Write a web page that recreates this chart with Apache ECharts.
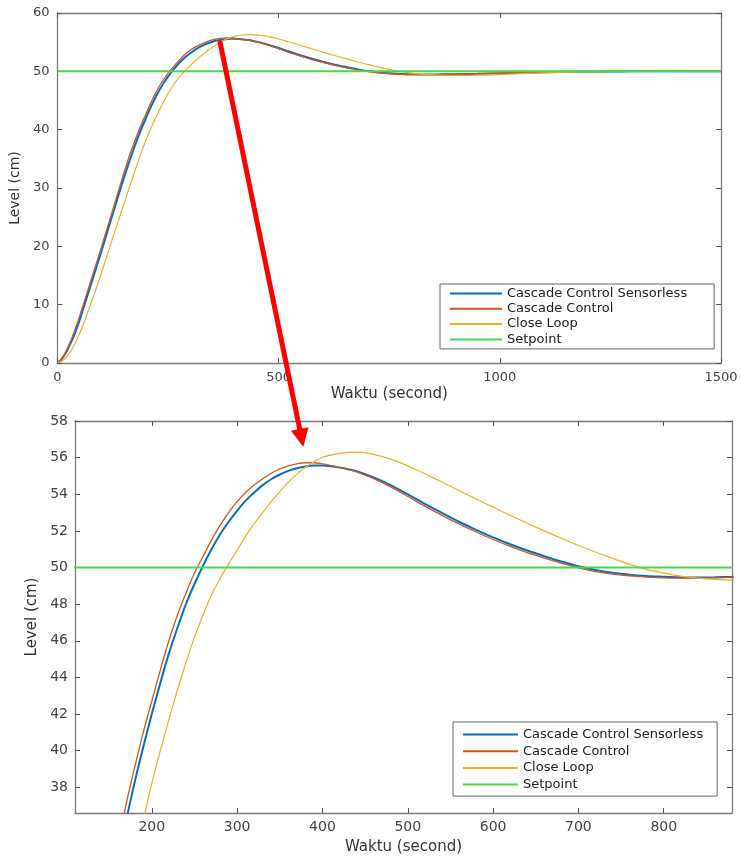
<!DOCTYPE html>
<html>
<head>
<meta charset="utf-8">
<script src="https://cdn.jsdelivr.net/npm/echarts@6.0.0/dist/echarts.min.js"></script>
<style>
html,body{margin:0;padding:0;background:#fff;}
#chart{width:742px;height:857px;}
</style>
</head>
<body>
<div id="chart"></div>
<script>
// ---- data (time in seconds, level in cm) ----
const times = [0,10,20,30,40,50,60,70,80,90,100,110,120,130,140,150,160,170,180,190,200,210,220,230,240,250,260,270,280,290,300,310,320,330,340,350,360,370,380,390,400,410,420,430,440,460,480,500,520,540,560,580,600,620,640,660,680,700,720,740,760,780,800,820,840,860,880,900,950,1000,1050,1100,1150,1200,1250,1300,1400,1500];

const sensorless = [0,0.7,1.9,3.4,5.2,7.3,9.7,12.1,14.5,16.9,19.3,21.8,24.3,26.8,29.3,31.7,34.0,36.2,38.3,40.2,42.0,43.7,45.3,46.7,48.0,49.1,50.1,51.0,51.8,52.5,53.1,53.65,54.1,54.5,54.82,55.08,55.28,55.42,55.52,55.57,55.57,55.53,55.46,55.37,55.26,54.92,54.5,54.0,53.48,52.98,52.5,52.06,51.65,51.27,50.93,50.62,50.33,50.07,49.87,49.72,49.61,49.54,49.5,49.47,49.46,49.47,49.49,49.52,49.6,49.69,49.77,49.85,49.91,49.95,49.98,50.0,50.01,50.0];

const cascade = [0,0.8,2.1,3.8,5.8,8.0,10.4,12.8,15.2,17.6,20.0,22.5,25.0,27.5,30.0,32.5,34.9,37.1,39.1,41.0,42.7,44.4,46.0,47.4,48.6,49.7,50.6,51.5,52.3,53.0,53.6,54.1,54.5,54.85,55.15,55.38,55.55,55.66,55.72,55.72,55.66,55.57,55.47,55.36,55.22,54.85,54.4,53.88,53.35,52.85,52.38,51.94,51.53,51.16,50.82,50.52,50.24,49.98,49.78,49.64,49.54,49.48,49.44,49.42,49.42,49.44,49.47,49.5,49.58,49.67,49.76,49.84,49.9,49.95,49.98,50.0,50.01,50.0];

const closeLoop = [0,0.3,1.0,2.0,3.4,5.0,6.9,9.0,11.1,13.3,15.6,17.9,20.3,22.6,24.9,27.2,29.5,31.8,34.0,36.2,38.2,40.0,41.7,43.3,44.8,46.2,47.4,48.5,49.4,50.2,50.95,51.7,52.4,53.0,53.6,54.15,54.65,55.1,55.47,55.78,56.02,56.14,56.23,56.29,56.3,56.18,55.92,55.55,55.12,54.67,54.2,53.75,53.3,52.85,52.42,52.0,51.6,51.2,50.85,50.5,50.17,49.9,49.7,49.53,49.42,49.35,49.31,49.29,49.33,49.45,49.6,49.73,49.84,49.92,49.97,50.01,50.02,50.0];

const setpointTimes = [0,1500];
const setpointValues = [50,50];

const seriesNames = ['Cascade Control Sensorless','Cascade Control','Close Loop','Setpoint'];

// axis ticks
const topXTicks = [0,500,1000,1500];
const topYTicks = [0,10,20,30,40,50,60];
const bottomXTicks = [200,300,400,500,600,700,800];
const bottomYTicks = [38,40,42,44,46,48,50,52,54,56,58];

// arrow annotation endpoints in data space
const arrowFrom = [367, 55.2];   // top chart
const arrowTo = [377.6, 56.6];   // bottom chart

const pairs = (xs, ys) => xs.map((x, i) => [x, ys[i]]);

const FONT = 'DejaVu Sans';
const AXIS_COLOR = '#7a7a7a';
const LABEL_COLOR = '#444';
const plain = v => String(v);

function axisCommon(extra) {
  return Object.assign({
    type: 'value',
    axisLine: {show: true, onZero: false, lineStyle: {color: AXIS_COLOR, width: 1.3}},
    splitLine: {show: false},
    nameTextStyle: {fontFamily: FONT, color: '#333'}
  }, extra);
}
function ticks(vals) {
  return {show: true, inside: true, length: 5, lineStyle: {color: '#555', width: 1}, customValues: vals};
}

const colors = ['#0072BD', '#D95319', '#EDB120', '#4cd64c'];
const widths = [2, 1.3, 1.2, 2];
const dataSets = [pairs(times, sensorless), pairs(times, cascade), pairs(times, closeLoop), pairs(setpointTimes, setpointValues)];

const series = [];
[0, 1].forEach(g => {
  dataSets.forEach((d, i) => {
    series.push({
      name: seriesNames[i],
      type: 'line',
      xAxisIndex: g * 2,
      yAxisIndex: g * 2,
      data: d,
      symbol: 'none',
      smooth: 0.3,
      clip: true,
      animation: false,
      color: colors[i],
      lineStyle: {color: colors[i], width: widths[i]},
      z: 2 + i
    });
  });
});

const chart = echarts.init(document.getElementById('chart'), null, {renderer: 'canvas'});

const legendCommon = {
  orient: 'vertical', data: seriesNames, icon: 'rect', itemHeight: 2,
  borderColor: '#666', borderWidth: 1, backgroundColor: '#fff',
  textStyle: {fontFamily: FONT, fontSize: 13, color: '#222', lineHeight: 13},
  selectedMode: false
};

const option = {
  backgroundColor: '#fff',
  animation: false,
  grid: [
    {left: 56, right: 21, top: 13, height: 350},
    {left: 75, right: 10, top: 421, bottom: 44}
  ],
  xAxis: [
    axisCommon({gridIndex: 0, position: 'bottom', min: 0, max: 1500,
      axisTick: ticks(topXTicks),
      axisLabel: {customValues: topXTicks, formatter: plain, fontFamily: FONT, fontSize: 13, color: LABEL_COLOR, margin: 8},
      name: 'Waktu (second)', nameLocation: 'middle', nameGap: 24,
      nameTextStyle: {fontFamily: FONT, fontSize: 15, color: '#333'}}),
    axisCommon({gridIndex: 0, position: 'top', min: 0, max: 1500,
      axisTick: ticks(topXTicks), axisLabel: {show: false}}),
    axisCommon({gridIndex: 1, position: 'bottom', min: 110, max: 880,
      axisTick: ticks(bottomXTicks),
      axisLabel: {customValues: bottomXTicks, formatter: plain, fontFamily: FONT, fontSize: 14, color: LABEL_COLOR, margin: 7},
      name: 'Waktu (second)', nameLocation: 'middle', nameGap: 27,
      nameTextStyle: {fontFamily: FONT, fontSize: 15, color: '#333'}}),
    axisCommon({gridIndex: 1, position: 'top', min: 110, max: 880,
      axisTick: ticks(bottomXTicks), axisLabel: {show: false}})
  ],
  yAxis: [
    axisCommon({gridIndex: 0, position: 'left', min: 0, max: 60,
      axisTick: ticks(topYTicks),
      axisLabel: {customValues: topYTicks, formatter: plain, fontFamily: FONT, fontSize: 13, color: LABEL_COLOR, margin: 8},
      name: 'Level (cm)', nameLocation: 'middle', nameGap: 35,
      nameTextStyle: {fontFamily: FONT, fontSize: 14, color: '#333'}}),
    axisCommon({gridIndex: 0, position: 'right', min: 0, max: 60,
      axisTick: ticks(topYTicks), axisLabel: {show: false}}),
    axisCommon({gridIndex: 1, position: 'left', min: 36.6, max: 58,
      axisTick: ticks(bottomYTicks),
      axisLabel: {customValues: bottomYTicks, formatter: plain, fontFamily: FONT, fontSize: 14, color: LABEL_COLOR, margin: 7},
      name: 'Level (cm)', nameLocation: 'middle', nameGap: 34,
      nameTextStyle: {fontFamily: FONT, fontSize: 15, color: '#333'}}),
    axisCommon({gridIndex: 1, position: 'right', min: 36.6, max: 58,
      axisTick: ticks(bottomYTicks), axisLabel: {show: false}})
  ],
  legend: [
    Object.assign({}, legendCommon, {
      left: 440, top: 284, itemWidth: 52, itemGap: 2.3, padding: [3, 27, 3, 10]
    }),
    Object.assign({}, legendCommon, {
      left: 453, top: 722, itemWidth: 55, itemGap: 3.7, padding: [6, 14, 5, 10]
    })
  ],
  series: series
};

chart.setOption(option);

// red arrow annotation, positioned from data coordinates through the axes
const p0 = chart.convertToPixel({xAxisIndex: 0, yAxisIndex: 0}, arrowFrom);
const p1 = chart.convertToPixel({xAxisIndex: 2, yAxisIndex: 2}, arrowTo);
const dx = p1[0] - p0[0], dy = p1[1] - p0[1];
const len = Math.sqrt(dx * dx + dy * dy);
const ux = dx / len, uy = dy / len;
const headLen = 18, headHalf = 9;
const bx = p1[0] - ux * headLen, by = p1[1] - uy * headLen;
chart.setOption({
  graphic: [
    {type: 'line', z: 100, shape: {x1: p0[0], y1: p0[1], x2: bx + ux * 2, y2: by + uy * 2},
      style: {stroke: '#ff0000', lineWidth: 5}},
    {type: 'polygon', z: 100, shape: {points: [
      [p1[0], p1[1]],
      [bx - uy * headHalf, by + ux * headHalf],
      [bx + uy * headHalf, by - ux * headHalf]
    ]}, style: {fill: '#ff0000'}}
  ]
});
</script>
</body>
</html>
